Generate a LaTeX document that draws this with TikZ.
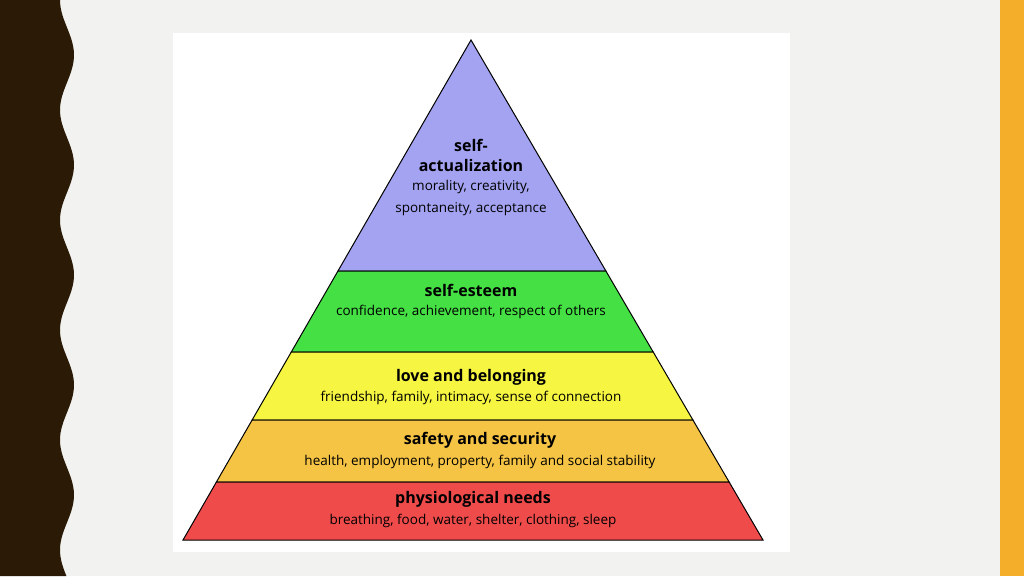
\documentclass[tikz,border=0pt]{standalone}
\usepackage{fontspec}
\setmainfont{Open Sans}
\usetikzlibrary{calc}
\definecolor{bgray}{HTML}{F2F2F0}
\definecolor{darkbrown}{HTML}{2B1B06}
\definecolor{sideorange}{HTML}{F5AE2A}
\definecolor{lvlblue}{HTML}{A3A3F2}
\definecolor{lvlgreen}{HTML}{44E044}
\definecolor{lvlyellow}{HTML}{F5F542}
\definecolor{lvlorange}{HTML}{F5C444}
\definecolor{lvlred}{HTML}{F04B4B}
\tikzset{
  band/.style={draw=black, line width=1pt},
  title/.style={font=\fontsize{16}{18}\selectfont\bfseries, inner sep=0pt},
  sub/.style={font=\fontsize{13.5}{15}\selectfont, inner sep=0pt}
}
\begin{document}
\begin{tikzpicture}[x=1pt,y=-1pt]
  \useasboundingbox (0,0) rectangle (1024,576);
  \fill[bgray] (0,0) rectangle (1024,576);
  % side strips
  \fill[sideorange] (1000,0) rectangle (1024,576);
  \fill[darkbrown] (0,0) -- plot[domain=0:576, samples=150, smooth]
    ({67-7*cos(\x*3.2727)}, \x) -- (0,576) -- cycle;
  % picture frame
  \fill[white] (173,33) rectangle (790,552);
  % pyramid corners
  \coordinate (apex) at (471,40);
  \coordinate (bl) at (183,540);
  \coordinate (br) at (763,540);
  \foreach \n/\t in {a/0.462,b/0.624,c/0.76,d/0.884} {
    \coordinate (l\n) at ($(apex)!\t!(bl)$);
    \coordinate (r\n) at ($(apex)!\t!(br)$);
  }
  % levels
  \draw[band, fill=lvlblue] (apex) -- (ra) -- (la) -- cycle;
  \draw[band, fill=lvlgreen] (la) -- (ra) -- (rb) -- (lb) -- cycle;
  \draw[band, fill=lvlyellow] (lb) -- (rb) -- (rc) -- (lc) -- cycle;
  \draw[band, fill=lvlorange] (lc) -- (rc) -- (rd) -- (ld) -- cycle;
  \draw[band, fill=lvlred] (ld) -- (rd) -- (br) -- (bl) -- cycle;
  % texts
  \node[title] (self) at (471,145) {self-};
  \node[title] (act) at (471,165) {actualization};
  \node[sub] (actA) at (471,187) {morality, creativity,};
  \node[sub] (actB) at (471,209) {spontaneity, acceptance};
  \node[title] (est) at (471,290) {self-esteem};
  \node[sub] (estA) at (471,312) {confidence, achievement, respect of others};
  \node[title] (love) at (471,377) {love and belonging};
  \node[sub] (loveA) at (471,398) {friendship, family, intimacy, sense of connection};
  \node[title] (safe) at (480,440) {safety and security};
  \node[sub] (safeA) at (480,462) {health, employment, property, family and social stability};
  \node[title] (phys) at (473,499) {physiological needs};
  \node[sub] (physA) at (473,521) {breathing, food, water, shelter, clothing, sleep};
\end{tikzpicture}
\end{document}
